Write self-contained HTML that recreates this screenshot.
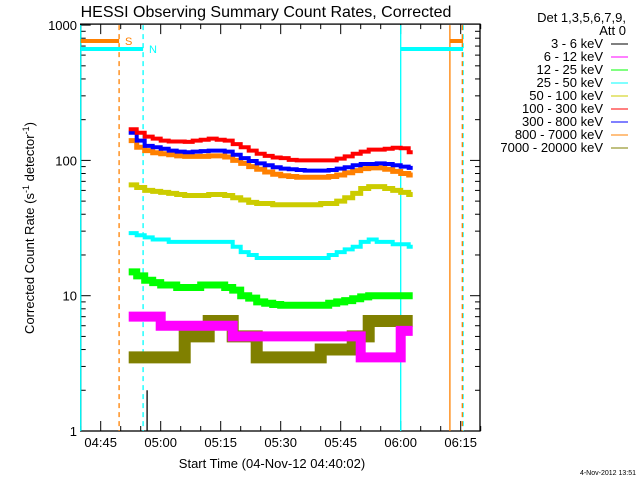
<!DOCTYPE html>
<html><head><meta charset="utf-8"><style>
html,body{margin:0;padding:0;background:#fff;}
svg{display:block;font-family:"Liberation Sans",sans-serif;}
</style></head><body>
<svg id="chart" width="640" height="480" viewBox="0 0 640 480">
<text x="266" y="17" font-size="16" text-anchor="middle">HESSI Observing Summary Count Rates, Corrected</text>
<text transform="translate(34,228) rotate(-90)" font-size="13" text-anchor="middle">Corrected Count Rate (s<tspan baseline-shift="super" font-size="9">-1</tspan> detector<tspan baseline-shift="super" font-size="9">-1</tspan>)</text>
<text x="272" y="468" font-size="13" text-anchor="middle">Start Time (04-Nov-12 04:40:02)</text>
<text x="636" y="475" font-size="7" text-anchor="end">4-Nov-2012 13:51</text>
<g id="axes"></g>
<g id="marks"></g>
<g id="legend" font-size="13" text-anchor="end">
<text x="626" y="22">Det 1,3,5,6,7,9,</text>
<text x="626" y="35">Att 0</text>
</g>
</svg>
<script>
const times=[12,14,16,18,20,22,24,26,28,30,32,34,36,38,40,42,44,46,48,50,52,54,56,58,60,62,64,66,68,70,72,74,76,78,80,82];
const red=[170,160,150,145,140,138,138,137,140,142,145,142,140,132,125,118,112,108,105,104,101,100,100,100,100,100,103,107,112,116,120,120,122,124,123,115];
const blue=[160,140,128,125,122,118,116,115,116,117,118,118,116,110,104,99,95,92,89,87,86,85,84,84,84,85,87,89,92,94,94,95,94,92,90,88];
const orange=[140,125,118,114,112,110,108,107,107,107,108,108,106,100,95,90,86,82,79,77,76,75,75,75,75,76,78,81,84,87,88,88,86,83,80,78];
const yellow=[66,63,60,59,58,57,56,55,55,55,56,56,55,53,51,49,48,48,47,47,47,47,47,47,48,48,50,53,57,62,64,64,62,60,58,56];
const cyan=[29,28,27,26,26,25,25,25,25,25,25,25,25,23,21,20,19,19,19,19,19,19,19,19,19,20,21,22,23,25,26,25,25,24,24,23];
const green=[15,14,13,12.5,12,12,11.5,11.5,11.5,12,12,12,11.5,11,10,9.6,9,8.8,8.6,8.5,8.5,8.5,8.5,8.5,8.5,8.8,9,9.2,9.5,9.8,10,10,10,10,10,10];
const magenta=[7,7,7,7,6,6,6,6,6,6,6,6,6,5,5,5,5,5,5,5,5,5,5,5,5,5,5,5,5,3.5,3.5,3.5,3.5,3.5,5.5,5.5];
const olive=[3.5,3.5,3.5,3.5,3.5,3.5,3.5,5,5,5,6.5,6.5,6.5,5,5,5,3.5,3.5,3.5,3.5,3.5,3.5,3.5,3.5,4,4,4,4,5,5,6.5,6.5,6.5,6.5,6.5,6.5];
const xTickLabels=["04:45","05:00","05:15","05:30","05:45","06:00","06:15"];
const xTickMinutes=[5,20,35,50,65,80,95];
const yTickLabels=["1","10","100","1000"];
const legendLabels=["3 - 6 keV","6 - 12 keV","12 - 25 keV","25 - 50 keV","50 - 100 keV","100 - 300 keV","300 - 800 keV","800 - 7000 keV","7000 - 20000 keV"];
const legendColors=["#000","#ff00ff","#00ff00","#00ffff","#cccc00","#ff0000","#0000ff","#ff8000","#808000"];

const NS="http://www.w3.org/2000/svg";
const X0=80.7,X1=480,Y0=431,DEC=135.3;
const xs=m=>X0+4*m;
const ys=v=>Y0-DEC*Math.log10(v);
const axes=document.getElementById('axes'),marks=document.getElementById('marks'),legend=document.getElementById('legend');
function mk(tag,attrs,parent){const e=document.createElementNS(NS,tag);for(const k in attrs)e.setAttribute(k,attrs[k]);parent.appendChild(e);return e;}

const fr=mk('rect',{x:X0,y:ys(1000)-1,width:X1-X0,height:Y0-ys(1000)+1,fill:'none',stroke:'#000','stroke-width':1.3},axes);


for(let d=0;d<3;d++){for(let k=1;k<=9;k++){const y=ys(k*Math.pow(10,d));const L=k===1?10:5;
 const t1=mk('line',{x1:X0,x2:X0+L,y1:y,y2:y,stroke:'#000'},axes);
 
 
 const t2=mk('line',{x1:X1,x2:X1-L,y1:y,y2:y,stroke:'#000'},axes);
 
 }}
{const y=ys(1000);const t=mk('line',{x1:X0,x2:X0+10,y1:y,y2:y,stroke:'#000'},axes);}
yTickLabels.forEach((s,i)=>{const t=mk('text',{x:77,y:ys(Math.pow(10,i))+5,'font-size':13,'text-anchor':'end'},axes);t.textContent=s;
 
 });
for(let m=0;m<=100;m+=5){const x=xs(m);const major=xTickMinutes.includes(m);const L=major?10:5;
 const a=mk('line',{x1:x,x2:x,y1:Y0,y2:Y0-L,stroke:'#000'},axes);
 
 
 const b=mk('line',{x1:x,x2:x,y1:ys(1000)-1,y2:ys(1000)-1+L,stroke:'#000'},axes);
 
 }
xTickLabels.forEach((s,i)=>{const t=mk('text',{x:xs(xTickMinutes[i]),y:447,'font-size':13,'text-anchor':'middle'},axes);t.textContent=s;
 
 });

const flags=[[0,'#00ffff',''],[9.6,'#ff8000','5,4'],[15.6,'#00ffff','5,4'],[80,'#00ffff',''],[92.3,'#ff8000',''],[95.6,'#00ffff','5,4'],[95.4,'#ff8000','5,4']];
flags.forEach(f=>{const l=mk('line',{x1:xs(f[0]),x2:xs(f[0]),y1:ys(1000),y2:Y0,stroke:f[1],'stroke-width':1.3,'stroke-dasharray':f[2]},marks);
 
 });
const bars=[[0,9.6,41,'#ff8000'],[92.3,95.6,41,'#ff8000'],[0,15.6,49,'#00ffff'],[80,95.6,49,'#00ffff']];
bars.forEach(b=>{const l=mk('line',{x1:xs(b[0]),x2:xs(b[1]),y1:b[2],y2:b[2],stroke:b[3],'stroke-width':4},marks);
 
 });
{const t=mk('text',{x:125,y:45,fill:'#ff8000','font-size':11},marks);t.textContent='S';}
{const t=mk('text',{x:149,y:53,fill:'#00ffff','font-size':11},marks);t.textContent='N';}
{const l=mk('line',{x1:xs(16.6),x2:xs(16.6),y1:ys(2),y2:Y0,stroke:'#000','stroke-width':1.3},marks);}

function series(vals,color,name,w){let d='';vals.forEach((v,i)=>{const x=xs(times[i]),y=ys(v);
 if(i===0)d+=`M${x},${y}`;else d+=`V${y}`;const xe=i<vals.length-1?xs(times[i+1]):x+4;d+=`H${xe}`;});
 const p=mk('path',{d:d,fill:'none',stroke:color,'stroke-width':w},marks);
 
 }
series(olive,'#808000','series-7000-20000kev',12);
series(magenta,'#ff00ff','series-6-12kev',10);
series(green,'#00ff00','series-12-25kev',7);
series(cyan,'#00ffff','series-25-50kev',4);
series(yellow,'#cccc00','series-50-100kev',5);
series(orange,'#ff8000','series-800-7000kev',5);
series(blue,'#0000ff','series-300-800kev',4);
series(red,'#ff0000','series-100-300kev',4);

legendLabels.forEach((s,i)=>{const y=48+13*i;
 const t=mk('text',{x:603,y:y},legend);t.textContent=s;
 
 
 const l=mk('line',{x1:611,x2:628,y1:y-4,y2:y-4,stroke:legendColors[i]},legend);
 
 });
</script>
</body></html>
